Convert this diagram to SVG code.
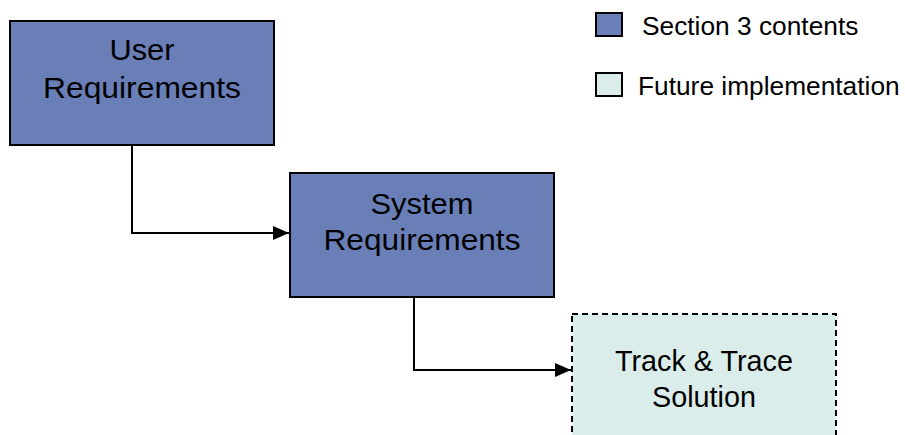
<svg xmlns="http://www.w3.org/2000/svg" width="905" height="435" viewBox="0 0 905 435">
<style>
text{font-family:"Liberation Sans",Arial,sans-serif;fill:#000}
.lbl{font-size:30px;text-anchor:middle}
.leg{font-size:26.3px}
.sec{fill:#6A7FB8;stroke:#000;stroke-width:2}
.fut{fill:#DAEDEB;stroke:#000;stroke-width:2}
.dash{stroke-dasharray:6,4}
.conn{fill:none;stroke:#000;stroke-width:2}
</style>
<defs>
<marker id="arr" markerWidth="16" markerHeight="14" refX="16" refY="7" orient="auto" markerUnits="userSpaceOnUse">
<path d="M0,0 L16,7 L0,14 Z" fill="#000"/>
</marker>
</defs>
<rect width="905" height="435" fill="#fff"/>
<g id="legend">
<rect class="sec" x="596" y="13" width="26" height="23"/>
<text class="leg" x="642" y="35">Section 3 contents</text>
<rect class="fut" x="596" y="73" width="26" height="23"/>
<text class="leg" x="638" y="95">Future implementation</text>
</g>
<g id="connectors">
<path class="conn" d="M132,145 V233 H289" marker-end="url(#arr)"/>
<path class="conn" d="M414,297 V370 H571" marker-end="url(#arr)"/>
</g>
<g id="user-req">
<rect class="sec" x="10" y="21" width="264" height="124"/>
<text class="lbl" x="142" y="60" textLength="65" lengthAdjust="spacingAndGlyphs">User</text>
<text class="lbl" x="142" y="98" textLength="198" lengthAdjust="spacingAndGlyphs">Requirements</text>
</g>
<g id="system-req">
<rect class="sec" x="290" y="173" width="264" height="124"/>
<text class="lbl" x="422" y="214" textLength="103" lengthAdjust="spacingAndGlyphs">System</text>
<text class="lbl" x="422" y="250" textLength="197" lengthAdjust="spacingAndGlyphs">Requirements</text>
</g>
<g id="track-trace">
<rect class="fut dash" x="572" y="314" width="264" height="130"/>
<text class="lbl" x="704" y="371" textLength="178" lengthAdjust="spacingAndGlyphs">Track &amp; Trace</text>
<text class="lbl" x="704" y="407" textLength="104" lengthAdjust="spacingAndGlyphs">Solution</text>
</g>
</svg>
